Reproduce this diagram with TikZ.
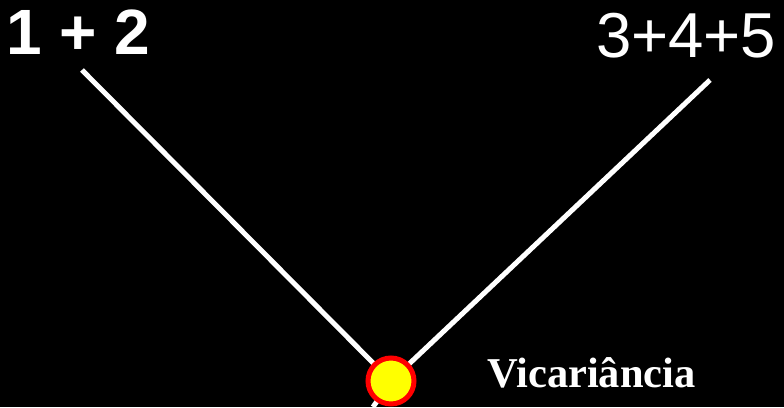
\documentclass[tikz,border=0pt]{standalone}
\usepackage{fontspec}
\setmainfont{Liberation Serif}
\setsansfont{Liberation Sans}
\usepackage{xcolor}
\definecolor{vicred}{HTML}{FF0000}
\definecolor{vicyellow}{HTML}{FFFF00}

\begin{document}
\begin{tikzpicture}[x=1pt,y=1pt,
  branch/.style={white,line width=5pt},
  numlabel/.style={white,inner sep=0pt,anchor=base west,font=\sffamily}]
  \fill[black] (0,0) rectangle (784,407);
  \useasboundingbox (0,0) rectangle (784,407);
  % labels
  \node[numlabel,font=\sffamily\bfseries\fontsize{64}{64}\selectfont] (left) at (6,352) {1 + 2};
  \node[numlabel,font=\sffamily\fontsize{63.5}{63.5}\selectfont] (right) at (596,349) {3+4+5};
  \node[white,inner sep=0pt,anchor=base west,font=\rmfamily\bfseries\fontsize{42.5}{42.5}\selectfont] (vlabel) at (487,20) {Vicariância};
  % branches
  \coordinate (ltop) at (82,337);
  \coordinate (rtop) at (710,327);
  \coordinate (stub) at (373,0);
  \coordinate (split) at (391,26);
  \draw[branch] (ltop) -- (split);
  \draw[branch] (rtop) -- (split);
  \draw[branch] (stub) -- (split);
  \node[circle,draw=vicred,fill=vicyellow,line width=5pt,minimum size=46pt,inner sep=0pt] (vic) at (split) {};
\end{tikzpicture}
\end{document}
